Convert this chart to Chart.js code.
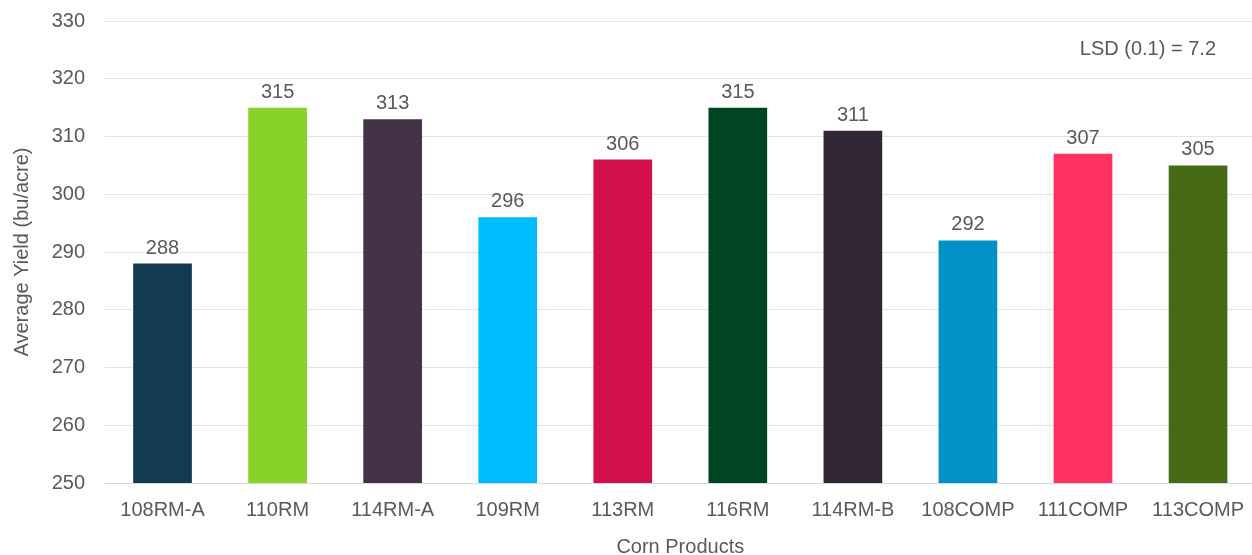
<!DOCTYPE html>
<html>
<head>
<meta charset="utf-8">
<script src="https://cdn.jsdelivr.net/npm/chart.js@4.4.1/dist/chart.umd.min.js"></script>
<style>
  html, body { margin: 0; padding: 0; background: #fff; overflow: hidden; }
  #wrap { width: 1259px; height: 555px; position: relative; }
</style>
</head>
<body>
<div id="wrap"><canvas id="chart"></canvas></div>
<script>
// Yield by corn product
const categories = ['108RM-A', '110RM', '114RM-A', '109RM', '113RM', '116RM', '114RM-B', '108COMP', '111COMP', '113COMP'];
const yields = [288, 315, 313, 296, 306, 315, 311, 292, 307, 305];
const barColors = ['#123A50', '#89D329', '#443247', '#00BCFF', '#D30F4B', '#004422', '#302636', '#0091C6', '#FF3162', '#466A15'];
const yTicks = [250, 260, 270, 280, 290, 300, 310, 320, 330];
const lsdNote = 'LSD (0.1) = 7.2';

const textColor = '#595959';
const fontFamily = '"Liberation Sans", Arial, Helvetica, sans-serif';

// Value labels above each bar, plus the LSD note in the upper right
const annotations = {
  id: 'annotations',
  afterDatasetsDraw(chart) {
    const ctx = chart.ctx;
    const meta = chart.getDatasetMeta(0);
    ctx.save();
    ctx.fillStyle = textColor;
    ctx.font = '20px ' + fontFamily;
    ctx.textAlign = 'center';
    ctx.textBaseline = 'alphabetic';
    meta.data.forEach((bar, i) => {
      ctx.fillText(String(yields[i]), bar.x, bar.y - 10);
    });
    ctx.textAlign = 'right';
    ctx.textBaseline = 'middle';
    ctx.fillText(lsdNote, 1216, 49);
    ctx.restore();
  }
};

new Chart(document.getElementById('chart'), {
  type: 'bar',
  data: {
    labels: categories,
    datasets: [{
      data: yields,
      backgroundColor: barColors,
      borderWidth: 0,
      barPercentage: 0.51,
      categoryPercentage: 1.0
    }]
  },
  options: {
    responsive: true,
    maintainAspectRatio: false,
    animation: false,
    layout: { padding: { top: 21, right: 0, left: 0, bottom: 0 } },
    plugins: {
      legend: { display: false },
      tooltip: { enabled: false }
    },
    scales: {
      x: {
        grid: { display: false, drawTicks: false },
        border: { display: true, color: '#d9d9d9', width: 1 },
        ticks: {
          color: textColor,
          font: { family: fontFamily, size: 20 },
          padding: 15,
          maxRotation: 0,
          autoSkip: false
        },
        title: {
          display: true,
          text: 'Corn Products',
          color: textColor,
          font: { family: fontFamily, size: 20 },
          padding: { top: 18, bottom: -4 }
        },
        afterFit(scale) { scale.height = 72; }
      },
      y: {
        min: 250,
        max: 330,
        afterBuildTicks(scale) { scale.ticks = yTicks.map(v => ({ value: v })); },
        grid: { color: '#e3e3e3', lineWidth: 1, drawTicks: false },
        border: { display: false },
        ticks: {
          color: textColor,
          font: { family: fontFamily, size: 20 },
          padding: 20
        },
        title: {
          display: true,
          text: 'Average Yield (bu/acre)',
          color: textColor,
          font: { family: fontFamily, size: 20 },
          padding: { top: 10, bottom: 8 }
        },
        afterFit(scale) {
          scale.width = 105;
          scale.paddingTop = 0;
          scale.paddingBottom = 0;
        }
      }
    }
  },
  plugins: [annotations]
});
</script>
</body>
</html>
